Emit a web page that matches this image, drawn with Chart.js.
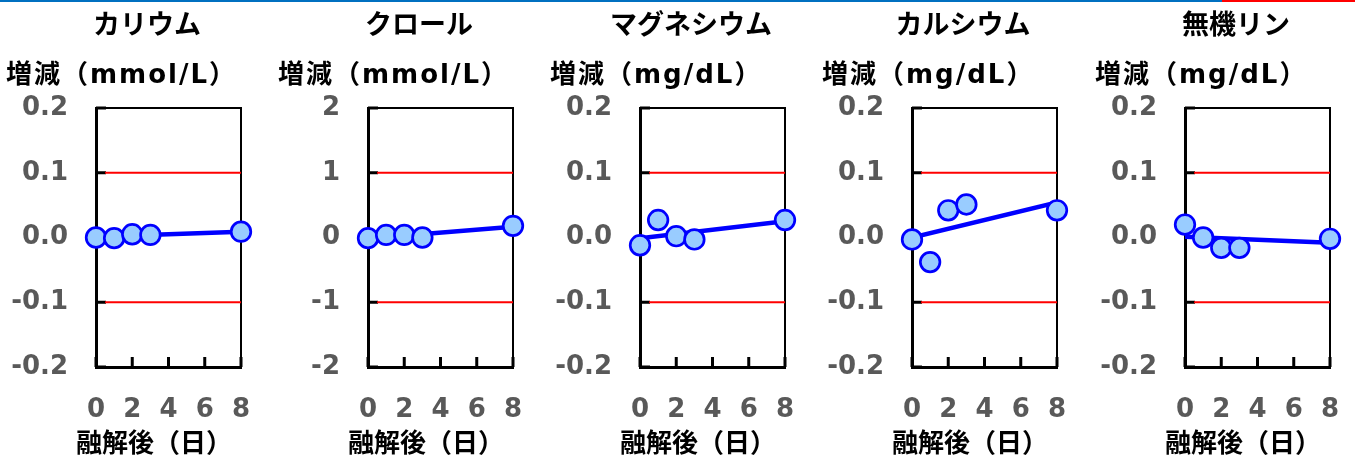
<!DOCTYPE html>
<html lang="ja">
<head>
<meta charset="utf-8">
<title>融解後の電解質変化</title>
<script src="https://cdn.jsdelivr.net/npm/chart.js@4.4.1/dist/chart.umd.min.js"></script>
<style>
  html, body { margin: 0; padding: 0; background: #fff; }
  body { width: 1355px; height: 459px; position: relative; overflow: hidden; }
  .topbar { position: absolute; top: 0; height: 2px; }
  canvas { position: absolute; top: 0; }
</style>
</head>
<body>
<div class="topbar" style="left:0;width:1222px;background:#0070c0"></div>
<div class="topbar" style="left:1222px;width:133px;background:#ff0000"></div>
<canvas id="c0" width="272" height="459"></canvas>
<canvas id="c1" width="272" height="459"></canvas>
<canvas id="c2" width="272" height="459"></canvas>
<canvas id="c3" width="272" height="459"></canvas>
<canvas id="c4" width="272" height="459"></canvas>
<script>
const days = [0, 1, 2, 3, 8];
const xTickLabels = ["0", "2", "4", "6", "8"];
const yTicksSmall = ["-0.2", "-0.1", "0.0", "0.1", "0.2"];
const yTicksChlor = ["-2", "-1", "0", "1", "2"];

const names = ["カリウム", "クロール", "マグネシウム", "カルシウム", "無機リン"];
const units = ["増減（mmol/L）", "増減（mmol/L）", "増減（mg/dL）", "増減（mg/dL）", "増減（mg/dL）"];
const xTitle = "融解後（日）";

// 融解日からの増減
const kalium = [0.000, -0.001, 0.005, 0.004, 0.009];
const chlor = [-0.01, 0.04, 0.04, 0.00, 0.18];
const magnesium = [-0.012, 0.027, 0.002, -0.003, 0.027];
const calcium = [-0.003, -0.038, 0.042, 0.051, 0.042];
const phosphorus = [0.020, 0.000, -0.016, -0.016, -0.002];

// 近似直線 (0日目, 8日目)
const trendStart = [0.001, -0.015, -0.001, 0.000, 0.001];
const trendEnd = [0.009, 0.165, 0.025, 0.054, -0.008];

// 許容範囲 (±)
const limits = [0.1, 1, 0.1, 0.1, 0.1];

const series = [kalium, chlor, magnesium, calcium, phosphorus];
const yTickSets = [yTicksSmall, yTicksChlor, yTicksSmall, yTicksSmall, yTicksSmall];
const panelLeft = [0, 272, 544, 816, 1089];

const LATIN = "'DejaVu Sans', 'Noto Sans CJK JP', sans-serif";
const CJK = "'Noto Sans CJK JP', sans-serif";

// 枠の上辺・右辺と内向きの目盛
const innerTicks = {
  id: "innerTicks",
  beforeDatasetsDraw(chart) {
    const { ctx, chartArea: a, scales } = chart;
    ctx.save();
    ctx.strokeStyle = "#000";
    ctx.lineWidth = 2;
    ctx.beginPath();
    ctx.moveTo(a.left, a.top);
    ctx.lineTo(a.right, a.top);
    ctx.lineTo(a.right, a.bottom);
    ctx.stroke();

    ctx.lineWidth = 3;
    ctx.beginPath();
    scales.y.ticks.forEach((t) => {
      const py = scales.y.getPixelForValue(t.value);
      ctx.moveTo(a.left, py);
      ctx.lineTo(a.left + 10, py);
    });
    scales.x.ticks.forEach((t) => {
      const px = scales.x.getPixelForValue(t.value);
      ctx.moveTo(px, a.bottom);
      ctx.lineTo(px, a.bottom - 10);
    });
    ctx.stroke();
    ctx.restore();
  },
};

function panelText(i) {
  return {
    id: "panelText",
    afterDraw(chart) {
      const ctx = chart.ctx;
      ctx.save();
      ctx.fillStyle = "#000";
      ctx.textBaseline = "middle";

      ctx.font = "bold 27px " + CJK;
      ctx.textAlign = "center";
      ctx.fillText(names[i], 147, 24);

      ctx.font = "bold 26px " + LATIN;
      ctx.textAlign = "left";
      ctx.letterSpacing = "2px";
      ctx.fillText(units[i], 6, 76);
      ctx.letterSpacing = "0px";

      ctx.font = "bold 26px " + CJK;
      ctx.textAlign = "center";
      ctx.fillText(xTitle, 154, 442);
      ctx.restore();
    },
  };
}

function makePanel(i) {
  const canvas = document.getElementById("c" + i);
  canvas.style.left = panelLeft[i] + "px";

  const lim = limits[i];
  const yLabels = yTickSets[i];
  const points = days.map((d, k) => ({ x: d, y: series[i][k] }));

  new Chart(canvas, {
    type: "scatter",
    data: {
      datasets: [
        {
          data: points,
          showLine: false,
          clip: false,
          pointRadius: 9.8,
          pointHoverRadius: 9.8,
          pointBorderWidth: 2.7,
          pointBackgroundColor: "#99ccff",
          pointBorderColor: "#0000ff",
          order: 0,
        },
        {
          data: [{ x: 0, y: trendStart[i] }, { x: 8, y: trendEnd[i] }],
          showLine: true,
          borderColor: "#0000ff",
          borderWidth: 4.5,
          pointRadius: 0,
          order: 1,
        },
        {
          data: [{ x: 0.5, y: lim }, { x: 8, y: lim }],
          showLine: true,
          borderColor: "#ff0000",
          borderWidth: 2,
          pointRadius: 0,
          order: 2,
        },
        {
          data: [{ x: 0.5, y: -lim }, { x: 8, y: -lim }],
          showLine: true,
          borderColor: "#ff0000",
          borderWidth: 2,
          pointRadius: 0,
          order: 2,
        },
      ],
    },
    options: {
      responsive: false,
      animation: false,
      devicePixelRatio: 1,
      layout: { padding: { top: 108, right: 31, left: 0, bottom: 0 } },
      plugins: {
        legend: { display: false },
        tooltip: { enabled: false },
      },
      scales: {
        x: {
          type: "linear",
          min: 0,
          max: 8,
          afterFit: (s) => {
            s.height = 92;
            s.paddingLeft = 0;
            s.paddingRight = 0;
          },
          grid: { display: false, drawTicks: false },
          border: { display: true, color: "#000", width: 3 },
          ticks: {
            stepSize: 2,
            padding: 28,
            color: "#595959",
            font: { family: LATIN, size: 26, weight: "bold" },
            callback: (v, k) => xTickLabels[k],
          },
        },
        y: {
          min: -2 * lim,
          max: 2 * lim,
          afterFit: (s) => {
            s.width = 96;
            s.paddingTop = 0;
            s.paddingBottom = 0;
          },
          grid: { display: false, drawTicks: false },
          border: { display: true, color: "#000", width: 3 },
          ticks: {
            stepSize: lim,
            padding: 28,
            color: "#595959",
            font: { family: LATIN, size: 26, weight: "bold" },
            callback: (v) => yLabels[Math.round((v + 2 * lim) / lim)],
          },
        },
      },
    },
    plugins: [innerTicks, panelText(i)],
  });
}

for (let i = 0; i < 5; i++) makePanel(i);
</script>
</body>
</html>
